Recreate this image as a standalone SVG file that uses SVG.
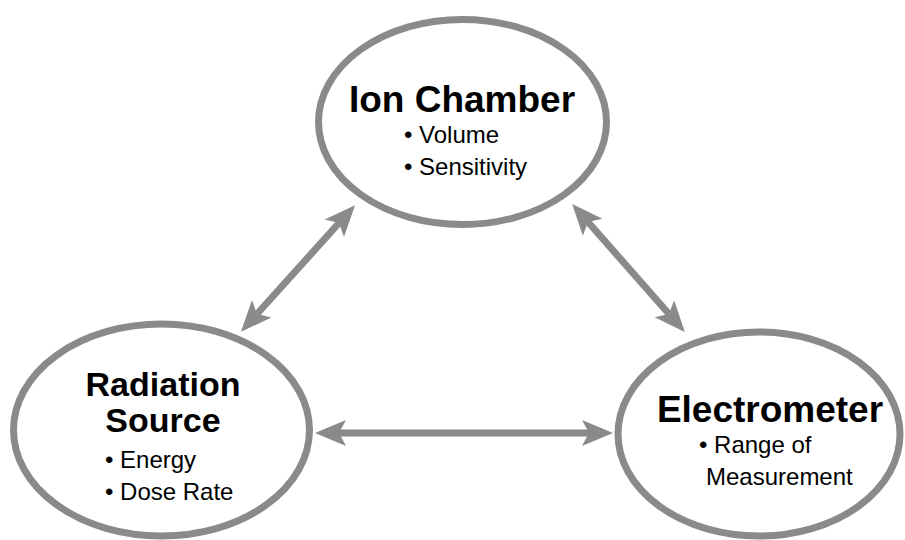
<svg xmlns="http://www.w3.org/2000/svg" width="905" height="540" viewBox="0 0 905 540">
<defs>
<style>
.node{fill:#fff;stroke:#8a8a8a;stroke-width:7}
.title{font-family:"Liberation Sans",Arial,sans-serif;font-weight:bold;font-size:37px;fill:#000;text-anchor:middle}
.title2{font-size:34px}
.item{font-family:"Liberation Sans",Arial,sans-serif;font-size:24px;fill:#000}
.conn{fill:none;stroke:#8a8a8a;stroke-width:7}
</style>
<marker id="head" viewBox="0 0 31 28" refX="7" refY="14" markerWidth="31" markerHeight="28" markerUnits="userSpaceOnUse" orient="auto-start-reverse">
<path d="M0,1 L31,14 L0,27 L7,14 Z" fill="#8a8a8a"/>
</marker>
</defs>
<rect width="905" height="540" fill="#fff"/>
<g id="connectors">
<path class="conn" d="M257,314 L339,223" marker-start="url(#head)" marker-end="url(#head)"/>
<path class="conn" d="M588,222 L669,314" marker-start="url(#head)" marker-end="url(#head)"/>
<path class="conn" d="M339,433 L589,433" marker-start="url(#head)" marker-end="url(#head)"/>
</g>
<g id="ion-chamber">
<ellipse class="node" cx="462.5" cy="122" rx="144" ry="102.5"/>
<text class="title" x="462" y="112">Ion Chamber</text>
<text class="item" x="404" y="143">• Volume</text>
<text class="item" x="404" y="175">• Sensitivity</text>
</g>
<g id="radiation-source">
<ellipse class="node" cx="161.5" cy="430" rx="148" ry="106"/>
<text class="title title2" x="163" y="396">Radiation</text>
<text class="title title2" x="163" y="432">Source</text>
<text class="item" x="105" y="468">• Energy</text>
<text class="item" x="105" y="500">• Dose Rate</text>
</g>
<g id="electrometer">
<ellipse class="node" cx="759" cy="434" rx="141" ry="102"/>
<text class="title" x="770" y="422">Electrometer</text>
<text class="item" x="699" y="453">• Range of</text>
<text class="item" x="706" y="485">Measurement</text>
</g>
</svg>
